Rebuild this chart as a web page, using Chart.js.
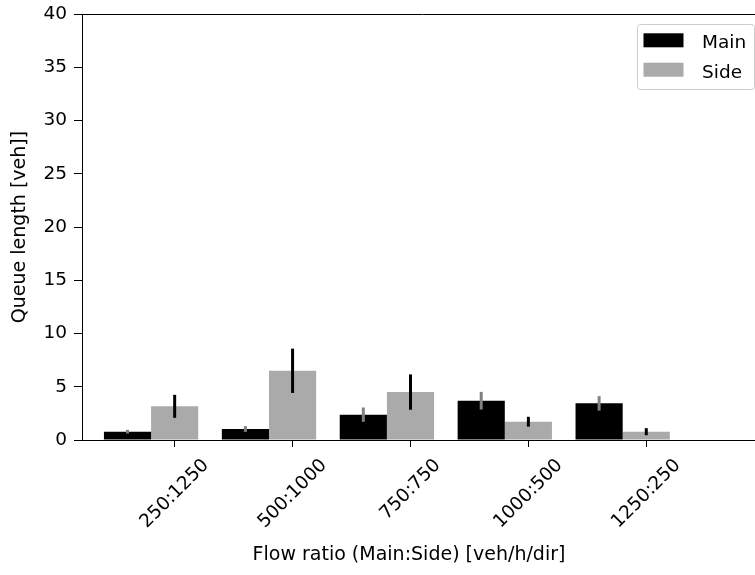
<!DOCTYPE html>
<html><head><meta charset="utf-8">
<style>
html,body{margin:0;padding:0;overflow:hidden;background:#fff;width:755px;height:575px}
#wrap{position:absolute;left:0;top:0;width:775px;height:575px}
</style>
<script src="https://cdn.jsdelivr.net/npm/chart.js@4.4.0/dist/chart.umd.min.js"></script>
</head><body><div id="wrap"><canvas id="c" width="775" height="575"></canvas></div>
<script>
const categories = ['250:1250', '500:1000', '750:750', '1000:500', '1250:250'];
const mainValues = [0.78, 1.03, 2.38, 3.69, 3.44];
const mainErrors = [0.17, 0.27, 0.67, 0.83, 0.68];
const sideValues = [3.16, 6.5, 4.5, 1.72, 0.78];
const sideErrors = [1.08, 2.08, 1.66, 0.46, 0.33];
const yTicks = [0, 5, 10, 15, 20, 25, 30, 35, 40];
const seriesNames = ['Main', 'Side'];
const xTitle = 'Flow ratio (Main:Side) [veh/h/dir]';
const yTitle = 'Queue length [veh]]';

const FONT = 'DejaVu Sans';
const TXT = '#000';

const errorBars = {
  id: 'errorBars',
  afterDatasetsDraw(chart) {
    const ctx = chart.ctx, ys = chart.scales.y;
    chart.data.datasets.forEach((ds, di) => {
      const meta = chart.getDatasetMeta(di);
      ctx.save();
      ctx.strokeStyle = ds.errorColor;
      ctx.lineWidth = 3;
      meta.data.forEach((el, i) => {
        const v = ds.data[i].y, e = ds.errors[i];
        ctx.beginPath();
        ctx.moveTo(el.x, ys.getPixelForValue(v - e));
        ctx.lineTo(el.x, ys.getPixelForValue(v + e));
        ctx.stroke();
      });
      ctx.restore();
    });
  }
};

const frame = {
  id: 'frame',
  afterDraw(chart) {
    const ctx = chart.ctx, a = chart.chartArea, xs = chart.scales.x;
    ctx.save();
    // top spine
    ctx.strokeStyle = '#000'; ctx.lineWidth = 1;
    ctx.beginPath(); ctx.moveTo(a.left, a.top + 0.5); ctx.lineTo(a.right, a.top + 0.5); ctx.stroke();
    // rotated x tick labels (centred on tick, matplotlib style)
    const fs = 18.5;
    ctx.font = fs + 'px "' + FONT + '"';
    ctx.fillStyle = TXT;
    ctx.textAlign = 'center'; ctx.textBaseline = 'middle';
    categories.forEach((c, i) => {
      const px = xs.getPixelForValue(i);
      const w = ctx.measureText(c).width;
      const cy = a.bottom + 16 + (w + fs) / (2 * Math.SQRT2);
      ctx.save();
      ctx.translate(px, cy);
      ctx.rotate(-Math.PI / 4);
      ctx.fillText(c, 0, 0);
      ctx.restore();
    });
    // x title
    ctx.font = '19px "' + FONT + '"';
    ctx.textAlign = 'center'; ctx.textBaseline = 'middle';
    ctx.fillText(xTitle, 409, a.bottom + 115);
    // legend
    const bw = 117, bh = 65;
    const bx = a.right - 9 - bw, by = a.top + 10;
    ctx.beginPath();
    ctx.roundRect(bx + 0.5, by + 0.5, bw, bh, 3);
    ctx.fillStyle = 'rgba(255,255,255,0.8)'; ctx.fill();
    ctx.strokeStyle = '#cccccc'; ctx.lineWidth = 1; ctx.stroke();
    ctx.font = '18.5px "' + FONT + '"';
    ctx.textAlign = 'left'; ctx.textBaseline = 'alphabetic';
    chart.data.datasets.forEach((ds, i) => {
      const sy = by + 9.3 + i * 29.4;
      ctx.fillStyle = ds.backgroundColor;
      ctx.fillRect(bx + 6.5, sy, 40, 14);
      ctx.fillStyle = TXT;
      ctx.fillText(ds.label, bx + 65, sy + 15);
    });
    ctx.restore();
  }
};

new Chart(document.getElementById('c'), {
  type: 'bar',
  data: {
    datasets: [
      { label: seriesNames[0], data: mainValues.map((v, i) => ({ x: i - 0.2, y: v })),
        backgroundColor: '#000000', errors: mainErrors, errorColor: '#808080' },
      { label: seriesNames[1], data: sideValues.map((v, i) => ({ x: i - 0.2, y: v })),
        backgroundColor: '#aaaaaa', errors: sideErrors, errorColor: '#000000' }
    ]
  },
  options: {
    responsive: false, animation: false, devicePixelRatio: 1,
    layout: { padding: { top: 14, right: 12, left: 0, bottom: 0 } },
    categoryPercentage: 0.8, barPercentage: 1.0,
    plugins: { legend: { display: false }, tooltip: { enabled: false } },
    scales: {
      x: {
        type: 'linear', min: -0.786, max: 4.99, offset: false,
        afterBuildTicks(s) { s.ticks = categories.map((c, i) => ({ value: i })); },
        afterFit(s) { s.height = 135; s.paddingLeft = 0; s.paddingRight = 0; },
        grid: { offset: false, drawOnChartArea: false, drawTicks: true, tickLength: 7, color: '#000', tickWidth: 1 },
        border: { display: true, color: '#000', width: 1 },
        ticks: { display: false }
      },
      y: {
        type: 'linear', min: 0, max: 40,
        afterBuildTicks(s) { s.ticks = yTicks.map(v => ({ value: v })); },
        afterFit(s) { s.width = 82; s.paddingTop = 0; s.paddingBottom = 0; },
        grid: { drawOnChartArea: false, drawTicks: true, tickLength: 8, color: '#000', tickWidth: 1 },
        border: { display: true, color: '#000', width: 1 },
        ticks: { color: TXT, font: { family: FONT, size: 18.5 }, padding: 7, callback: v => String(v) },
        title: { display: true, text: yTitle, color: TXT, font: { family: FONT, size: 19 }, padding: { top: 9, bottom: 0 } }
      }
    }
  },
  plugins: [errorBars, frame]
});
</script></body></html>
